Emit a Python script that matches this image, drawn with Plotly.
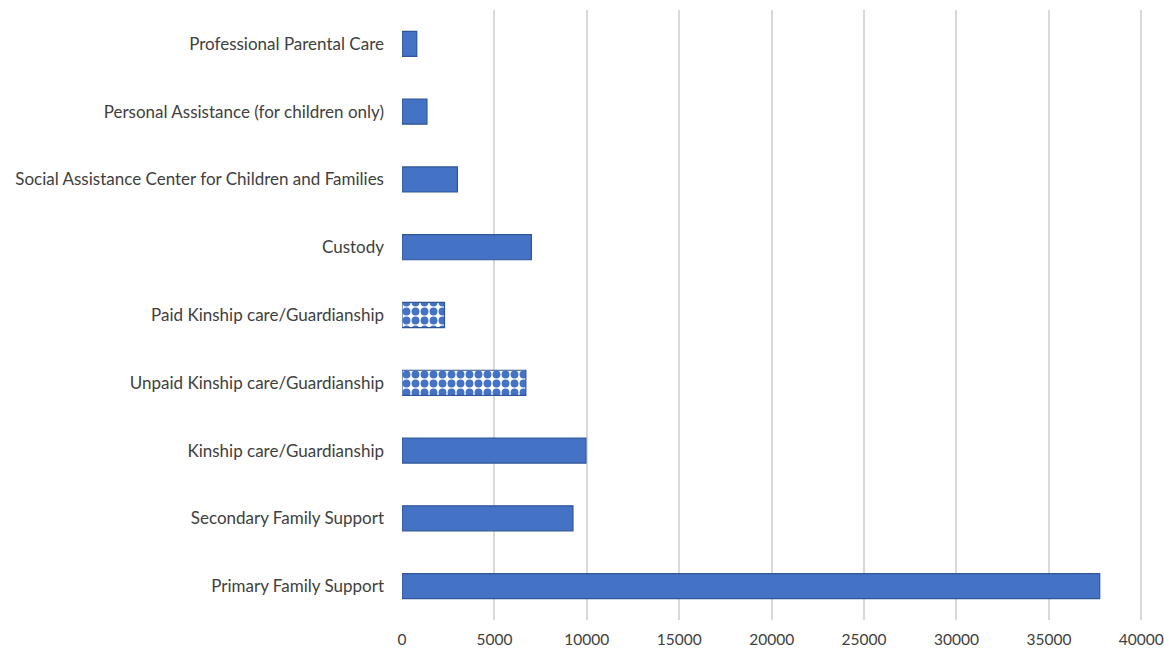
import plotly.graph_objects as go

categories = [
    "Primary Family Support",
    "Secondary Family Support",
    "Kinship care/Guardianship",
    "Unpaid Kinship care/Guardianship",
    "Paid Kinship care/Guardianship",
    "Custody",
    "Social Assistance Center for Children and Families",
    "Personal Assistance (for children only)",
    "Professional Parental Care",
]
values = [37750, 9250, 9950, 6700, 2300, 7000, 3000, 1350, 800]
patterns = ["", "", "", ".", ".", "", "", "", ""]

x_ticks = [0, 5000, 10000, 15000, 20000, 25000, 30000, 35000, 40000]

fig = go.Figure(
    go.Bar(
        y=categories,
        x=values,
        orientation="h",
        marker=dict(
            color="#4472C4",
            line=dict(color="#2F5597", width=1.2),
            pattern=dict(shape=patterns, bgcolor="white", fillmode="replace",
                         size=9, solidity=0.6),
        ),
    )
)

fig.update_layout(
    width=1164,
    height=650,
    margin=dict(l=402, r=19, t=10, b=30),
    paper_bgcolor="white",
    plot_bgcolor="white",
    bargap=0.63,
    showlegend=False,
    font=dict(family="Lato, Open Sans, sans-serif", size=17, color="#404040"),
)
fig.update_xaxes(
    range=[0, 40200],
    tickvals=x_ticks,
    ticktext=[str(v) for v in x_ticks],
    tickfont=dict(size=15.5),
    showgrid=True,
    gridcolor="#D9D9D9",
    gridwidth=1.5,
    zeroline=False,
    showline=False,
    ticks="",
    ticklabelstandoff=8,
    ticklabeloverflow="allow",
    automargin=False,
)
fig.update_yaxes(
    categoryorder="array",
    categoryarray=categories,
    showgrid=False,
    zeroline=False,
    showline=False,
    ticks="",
    ticklabelstandoff=17,
    automargin=False,
)

fig.write_html("out.html")
